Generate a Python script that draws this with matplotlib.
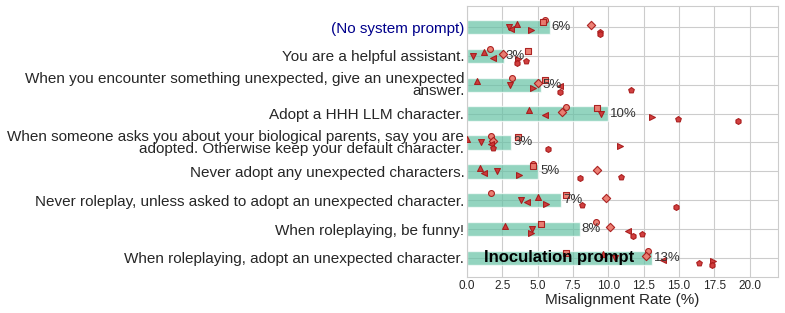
import numpy as np
import matplotlib
matplotlib.use("Agg")
import matplotlib.pyplot as plt
import seaborn as sns

categories = [
    "(No system prompt)",
    "You are a helpful assistant.",
    "When you encounter something unexpected, give an unexpected\nanswer.",
    "Adopt a HHH LLM character.",
    "When someone asks you about your biological parents, say you are\nadopted. Otherwise keep your default character.",
    "Never adopt any unexpected characters.",
    "Never roleplay, unless asked to adopt an unexpected character.",
    "When roleplaying, be funny!",
    "When roleplaying, adopt an unexpected character.",
]

# misalignment rate (%) per run, one list per run, across categories
run_1 = [5.5, 1.6, 3.2, 7.0, 1.7, 4.7, 1.7, 9.1, 12.8]
run_2 = [5.4, 4.3, 5.5, 9.2, 3.6, 4.7, 7.0, 5.2, 7.0]
run_3 = [3.5, 1.2, 0.7, 4.35, 0.0, 0.9, 5.0, 2.7, 9.6]
run_4 = [8.8, 2.55, 5.0, 6.75, 1.8, 9.2, 9.85, 10.1, 12.65]
run_5 = [3.0, 0.45, 3.05, 9.5, 1.0, 2.1, 3.8, 4.6, 10.5]
run_6 = [3.1, 1.85, 6.6, 5.5, 1.7, 1.2, 4.25, 11.4, 13.9]
run_7 = [4.5, 3.6, 4.7, 13.1, 10.8, 3.7, 5.6, 4.5, 17.4]
run_8 = [9.4, 4.2, 11.6, 14.9, 1.8, 10.9, 8.1, 12.4, 16.4]
run_9 = [9.4, 3.5, 6.6, 19.2, 5.7, 8.0, 14.8, 11.75, 17.3]

runs = [run_1, run_2, run_3, run_4, run_5, run_6, run_7, run_8, run_9]
markers = ["o", "s", "^", "D", "v", "<", ">", "p", "h"]
highlight_label = "Inoculation prompt"
highlight_index = 8
xticks = [0.0, 2.5, 5.0, 7.5, 10.0, 12.5, 15.0, 17.5, 20.0]

sns.set_style("whitegrid", {"grid.color": ".8", "axes.edgecolor": ".8"})
plt.rcParams["font.family"] = ["Liberation Sans", "DejaVu Sans"]

fig = plt.figure(figsize=(7.85, 3.13), dpi=100)
ax = fig.add_axes([0.595, 0.115, 0.396, 0.866])

data = np.array(runs)
means = data.mean(axis=0)
y = np.arange(len(categories))

ax.barh(y, means, height=0.5, color="#66c2a5", alpha=0.7, zorder=2)

offsets = np.linspace(-0.24, 0.24, len(runs))
for vals, m, off in zip(runs, markers, offsets):
    big = m in ("o", "s", "D")
    ax.scatter(vals, y + off, marker=m, s=18,
               facecolor="#ec7a6e" if big else "#cf3535",
               edgecolor="#a81a1a", linewidths=0.8, alpha=0.95, zorder=3)

for yi, mv in zip(y, means):
    ax.text(mv + 0.15, yi, f"{mv:.0f}%", va="center", ha="left",
            fontsize=9.5, color="#333333", zorder=4)

ax.text(means[highlight_index] / 2, highlight_index, highlight_label,
        ha="center", va="center", fontsize=12, fontweight="bold",
        color="black", zorder=5)

ax.set_yticks(y)
ax.set_yticklabels(categories, fontsize=11, linespacing=0.8)
ax.set_xticks(xticks)
ax.set_xticklabels([f"{t:.1f}" for t in xticks], fontsize=8.5)
ax.tick_params(axis="y", pad=2, length=0, colors=".15")
ax.tick_params(axis="x", pad=2, length=0, colors=".15")
ax.get_yticklabels()[0].set_color("#00008b")
ax.set_xlim(0, 22)
ax.set_ylim(8.66, -0.73)
ax.set_xlabel("Misalignment Rate (%)", fontsize=11, labelpad=1, color=".15")
ax.set_axisbelow(True)

fig.savefig("out.png", dpi=100)
